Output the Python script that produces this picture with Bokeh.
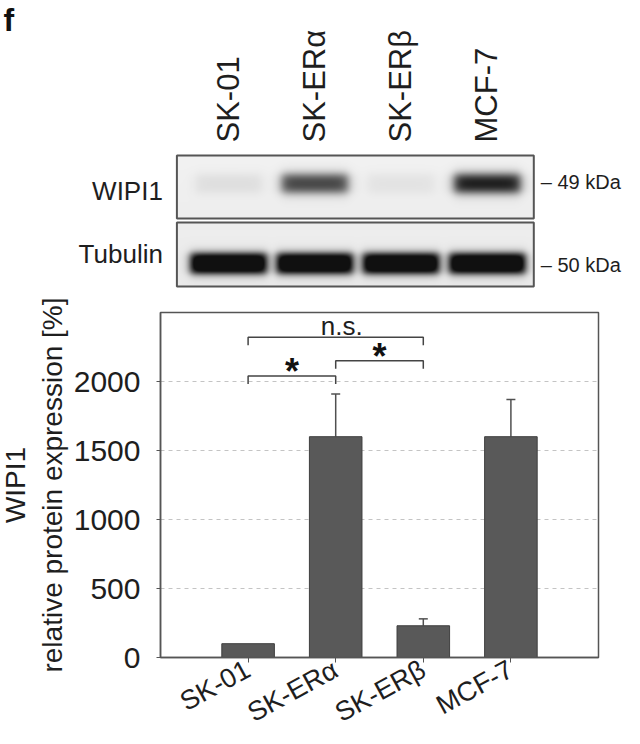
import numpy as np
from bokeh.plotting import figure
from bokeh.layouts import column
from bokeh.models import Range1d, FixedTicker, Whisker, TeeHead, ColumnDataSource
from bokeh.core.properties import value
from bokeh.embed import file_html
from bokeh.resources import INLINE

# ---------------- data ----------------
cell_lines = ["SK-01", "SK-ERα", "SK-ERβ", "MCF-7"]
wipi1_expression = [100, 1600, 230, 1600]
wipi1_error = [0, 310, 50, 270]
y_ticks = [0, 500, 1000, 1500, 2000]
y_axis_title = ["WIPI1", "relative protein expression [%]"]
sig_from = [1, 2, 1]
sig_to = [2, 3, 3]
sig_y = [2040, 2150, 2320]
sig_text = ["*", "*", "n.s."]
wipi1_band_intensity = [0.08, 0.8, 0.06, 1.0]
tubulin_band_intensity = [1.3, 1.3, 1.3, 1.3]
blot_rows = ["WIPI1", "Tubulin"]
blot_markers = ["– 49 kDa", "– 50 kDa"]

REG = "Liberation Sans"
TXT = "#1e1e1e"
EDGE = "#555555"

W = 624
TOP_H = 288
BOT_H = 440

lane_x = np.arange(1, len(cell_lines) + 1)

# ---------------- blot figure ----------------
LANE0, LANE_PX = 142.0, 86.0          # canvas x of lane 0, px per lane
def ty(y_px):                          # canvas y (from top) -> data y
    return TOP_H - y_px

top = figure(width=W, height=TOP_H,
             x_range=Range1d(-LANE0 / LANE_PX, (W - LANE0) / LANE_PX),
             y_range=Range1d(0, TOP_H),
             x_axis_type=None, y_axis_type=None, min_border=0,
             toolbar_location=None, output_backend="svg",
             outline_line_color=None, background_fill_color="white")


def smooth_box(t, c, hw, soft):
    return 0.5 * (np.tanh((t - (c - hw)) / soft) - np.tanh((t - (c + hw)) / soft))


def blot_image(intens, x0, x1, h_px, cy, hwx, hwy, sx, sy, bg):
    w_px = int(round((x1 - x0) * LANE_PX))
    xs = x0 + (np.arange(w_px) + 0.5) / LANE_PX
    ys = np.arange(h_px) + 0.5
    dark = np.zeros((h_px, w_px))
    for lx, it in zip(lane_x, intens):
        fx = smooth_box(xs, lx, hwx / LANE_PX, sx / LANE_PX)
        fy = smooth_box(ys, cy, hwy, sy)
        dark += it * np.outer(fy, fx)
    dark = np.clip(dark, 0, 1)
    shade = bg - 4 * (ys / h_px)[:, None]
    g = (shade - (shade - 16) * dark).astype(np.uint8)
    img = np.zeros((h_px, w_px), dtype=np.uint32)
    v = img.view(dtype=np.uint8).reshape((h_px, w_px, 4))
    v[..., 0] = g
    v[..., 1] = g
    v[..., 2] = g
    v[..., 3] = 255
    return np.ascontiguousarray(np.flipud(img))


px0 = lane_x[0] - 0.6
px1 = lane_x[-1] + 0.55
panels = [
    (wipi1_band_intensity, 155, 218, 28, 33, 9, 6, 5.5, 242),
    (tubulin_band_intensity, 222, 286, 41, 38, 10, 5, 4.5, 238),
]
for intens, ytop, ybot, cy, hwx, hwy, sx, sy, bg in panels:
    h = ybot - ytop
    img = blot_image(intens, px0, px1, h, cy, hwx, hwy, sx, sy, bg)
    top.image_rgba(image=[img], x=px0, y=ty(ybot), dw=px1 - px0, dh=h)
    top.quad(left=px0, right=px1, bottom=ty(ybot), top=ty(ytop),
             fill_color=None, line_color=EDGE, line_width=2)

top.text(x=lane_x, y=[ty(142)] * len(lane_x), text=cell_lines, angle=np.pi / 2,
         text_align="left", text_baseline="middle", text_font=value(REG),
         text_font_size="31px", text_color=TXT)
top.text(x=[px0 - 14 / LANE_PX] * 2, y=[ty(190), ty(253)], text=blot_rows,
         text_align="right", text_baseline="middle", text_font=value(REG),
         text_font_size="26px", text_color=TXT)
top.text(x=[px1 + 7 / LANE_PX] * 2, y=[ty(181), ty(264)], text=blot_markers,
         text_align="left", text_baseline="middle", text_font=value(REG),
         text_font_size="20px", text_color=TXT)
top.text(x=[(3 - LANE0) / LANE_PX], y=[ty(1)], text=["f"], text_align="left",
         text_baseline="top", text_font=value(REG), text_font_style="bold",
         text_font_size="32px", text_color="#111111")

# ---------------- bar chart ----------------
XPX = 87.6            # px per category step
YPX = 0.138           # px per unit
X0 = 160              # canvas x of category 0
Y0 = 657 - TOP_H      # canvas y of value 0 inside this figure
bot = figure(width=W, height=BOT_H,
             x_range=Range1d(-X0 / XPX, (W - X0) / XPX),
             y_range=Range1d(-(BOT_H - Y0) / YPX, Y0 / YPX),
             min_border=0, toolbar_location=None, output_backend="svg",
             outline_line_color=None)
bot.grid.visible = False

xa = bot.xaxis[0]
xa.fixed_location = 0
xa.bounds = (0, 5)
xa.ticker = FixedTicker(ticks=list(lane_x))
xa.major_label_overrides = {int(i): n for i, n in zip(lane_x, cell_lines)}
xa.major_label_orientation = 0.5
xa.major_label_text_font = REG
xa.major_label_text_font_size = "27px"
xa.major_label_text_color = TXT
xa.major_label_standoff = 5
xa.major_tick_out = 5
xa.major_tick_in = 0
xa.minor_tick_out = 0
xa.minor_tick_in = 0
xa.axis_line_color = EDGE
xa.axis_line_width = 1.5
xa.major_tick_line_color = EDGE

ya = bot.yaxis[0]
ya.fixed_location = 0
ya.bounds = (0, 2500)
ya.ticker = FixedTicker(ticks=y_ticks)
ya.major_label_text_font = REG
ya.major_label_text_font_size = "30px"
ya.major_label_text_color = TXT
ya.major_label_standoff = 16
ya.major_tick_out = 4
ya.major_tick_in = 0
ya.minor_tick_out = 0
ya.minor_tick_in = 0
ya.axis_line_color = EDGE
ya.axis_line_width = 1.5
ya.major_tick_line_color = EDGE

# dashed grid lines inside the box
bot.segment(x0=[0] * 4, x1=[5] * 4, y0=y_ticks[1:], y1=y_ticks[1:],
            line_color="#c4c4c4", line_dash="4 4", line_width=1)

bot.quad(left=0, right=5, bottom=0, top=2500, fill_color=None,
         line_color=EDGE, line_width=1.5)

# y-axis title (two lines)
bot.text(x=[(15 - X0) / XPX, (52 - X0) / XPX], y=[1250, 1250], text=y_axis_title,
         angle=np.pi / 2, text_align="center", text_baseline="middle",
         text_font=value(REG), text_font_size="28px", text_color=TXT)

bot.vbar(x=lane_x, top=wipi1_expression, width=0.6, bottom=0,
         fill_color="#595959", line_color="#3f3f3f", line_width=1)

err_src = ColumnDataSource(dict(
    base=[x for x, e in zip(lane_x, wipi1_error) if e > 0],
    lower=[v for v, e in zip(wipi1_expression, wipi1_error) if e > 0],
    upper=[v + e for v, e in zip(wipi1_expression, wipi1_error) if e > 0],
))
bot.add_layout(Whisker(source=err_src, base="base", lower="lower", upper="upper",
                       dimension="height", line_color="#505050", line_width=1.5,
                       lower_head=None,
                       upper_head=TeeHead(size=9, line_color="#505050", line_width=1.5)))

LEG = 8 / YPX
bot.multi_line(xs=[[a, a, b, b] for a, b in zip(sig_from, sig_to)],
               ys=[[y - LEG, y, y, y - LEG] for y in sig_y],
               line_color="#444444", line_width=1.5)
mid = [(a + b) / 2 for a, b in zip(sig_from, sig_to)]
star_idx = [i for i, t in enumerate(sig_text) if t == "*"]
ns_idx = [i for i, t in enumerate(sig_text) if t != "*"]
bot.text(x=[mid[i] for i in star_idx], y=[sig_y[i] for i in star_idx],
         text=[sig_text[i] for i in star_idx], text_align="center",
         text_baseline="alphabetic", y_offset=-4, text_font=value(REG),
         text_font_style="bold", text_font_size="36px", text_color="#111111")
bot.text(x=[mid[i] + 6 / XPX for i in ns_idx], y=[sig_y[i] for i in ns_idx],
         text=[sig_text[i] for i in ns_idx], text_align="center",
         text_baseline="alphabetic", y_offset=-11, text_font=value(REG),
         text_font_size="26px", text_color=TXT)

layout = column(top, bot, spacing=0)
open("out.html", "w").write(file_html(layout, INLINE))
